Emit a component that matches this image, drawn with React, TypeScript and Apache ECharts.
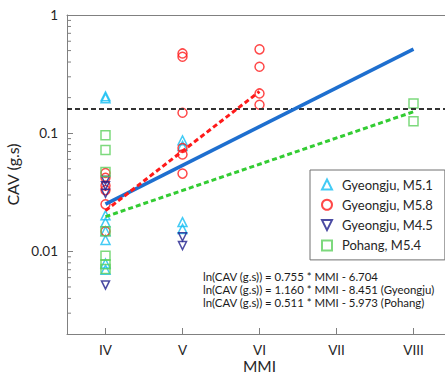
import React, { useEffect, useRef } from 'react';
import * as echarts from 'echarts';

// MMI categories (x) and their roman labels
const mmiValues = [4, 5, 6, 7, 8];
const mmiLabels = ['IV', 'V', 'VI', 'VII', 'VIII'];

// Y tick labels (log axis)
const yTickValues = [0.01, 0.1, 1];

// Scatter data: [MMI, CAV (g.s)]
const gyeongjuM51 = [
  [4, 0.205], [4, 0.198], [4, 0.0202], [4, 0.0176], [4, 0.0148], [4, 0.0125], [4, 0.0079], [4, 0.007],
  [5, 0.087], [5, 0.078], [5, 0.0177], [5, 0.0155],
];
const gyeongjuM58 = [
  [4, 0.046], [4, 0.042], [4, 0.036], [4, 0.033], [4, 0.025], [4, 0.0148],
  [5, 0.473], [5, 0.443], [5, 0.149], [5, 0.075], [5, 0.066], [5, 0.0455],
  [6, 0.512], [6, 0.365], [6, 0.217], [6, 0.174],
];
const gyeongjuM45 = [
  [4, 0.04], [4, 0.036], [4, 0.031], [4, 0.0052],
  [5, 0.0133], [5, 0.0112],
];
const pohangM54 = [
  [4, 0.096], [4, 0.072], [4, 0.047], [4, 0.0148], [4, 0.0092], [4, 0.0078], [4, 0.0071],
  [8, 0.178], [8, 0.126],
];

// Regression lines: ln(CAV) = slope * MMI + intercept
const fitSlopes = [0.755, 1.16, 0.511];
const fitIntercepts = [-6.704, -8.451, -5.973];
const fitRanges = [[4, 8], [4, 6], [4, 8]];
const equationTexts = [
  'ln(CAV (g.s)) = 0.755 * MMI - 6.704',
  'ln(CAV (g.s)) = 1.160 * MMI - 8.451 (Gyeongju)',
  'ln(CAV (g.s)) = 0.511 * MMI - 5.973 (Pohang)',
];

// Threshold CAV
const thresholdCAV = 0.16;

const seriesNames = ['Gyeongju, M5.1', 'Gyeongju, M5.8', 'Gyeongju, M4.5', 'Pohang, M5.4'];

const X_MIN = 3.5;
const X_MAX = 8.5;
const Y_MIN = 0.002;
const Y_MAX = 1;

const FONT = 'Lato';
const AXIS_COLOR = '#808080';
const TEXT_COLOR = '#262626';

const INV_TRIANGLE = 'path://M0,0 L10,0 L5,10 Z';

function fitLine(i: number) {
  return fitRanges[i].map((m) => [m, Math.exp(fitSlopes[i] * m + fitIntercepts[i])]);
}

function minorTicks() {
  const out: number[][] = [];
  for (let d = -3; d <= -1; d++) {
    for (let k = 2; k <= 9; k++) {
      const v = k * Math.pow(10, d);
      if (v > Y_MIN * 1.0001 && v < Y_MAX) out.push([X_MIN, v]);
    }
  }
  return out;
}

export default function App() {
  const ref = useRef<HTMLDivElement>(null);
  useEffect(() => {
    if (!ref.current) return;
    const chart = echarts.init(ref.current, undefined, { renderer: 'svg' });
    const scatterBase = (name: string, data: number[][], symbol: string, color: string, size: number) => ({
      name,
      type: 'scatter',
      data,
      symbol,
      symbolSize: size,
      itemStyle: { color: 'rgba(0,0,0,0)', borderColor: color, borderWidth: 1.5 },
      z: 3,
    });
    const option: any = {
      animation: false,
      grid: { left: 67, top: 15, right: 8, bottom: 40, containLabel: false, outerBoundsMode: 'none' },
      xAxis: [
        {
          type: 'value',
          min: X_MIN,
          max: X_MAX,
          position: 'bottom',
          axisLine: { show: true, lineStyle: { color: AXIS_COLOR, width: 1 } },
          axisTick: { show: true, inside: true, length: 6, lineStyle: { color: AXIS_COLOR } },
          splitLine: { show: false },
          axisLabel: {
            color: TEXT_COLOR,
            fontSize: 13.5,
            fontFamily: FONT,
            margin: 9,
            formatter: (v: number) => {
              const i = mmiValues.findIndex((m) => Math.abs(m - v) < 1e-6);
              return i >= 0 ? mmiLabels[i] : '';
            },
          },
          name: 'MMI',
          nameLocation: 'middle',
          nameGap: 24,
          nameMoveOverlap: false,
          nameTextStyle: { color: TEXT_COLOR, fontSize: 15.5, fontFamily: FONT },
        },
        {
          type: 'value',
          min: X_MIN,
          max: X_MAX,
          position: 'top',
          axisLine: { show: true, lineStyle: { color: AXIS_COLOR, width: 1 } },
          axisTick: { show: false },
          axisLabel: { show: false },
          splitLine: { show: false },
        },
      ],
      yAxis: {
        type: 'log',
        logBase: 10,
        min: Y_MIN,
        max: Y_MAX,
        axisLine: { show: true, lineStyle: { color: AXIS_COLOR, width: 1 } },
        axisTick: { show: true, inside: true, length: 6, lineStyle: { color: AXIS_COLOR } },
        splitLine: { show: false },
        axisLabel: {
          color: TEXT_COLOR,
          fontSize: 13.5,
          fontFamily: FONT,
          margin: 9,
          formatter: (v: number) => {
            const t = yTickValues.find((y) => Math.abs(Math.log10(v) - Math.log10(y)) < 1e-6);
            return t !== undefined ? String(t) : '';
          },
        },
        name: 'CAV (g.s)',
        nameLocation: 'middle',
        nameGap: 42,
        nameTextStyle: { color: TEXT_COLOR, fontSize: 16, fontFamily: FONT },
      },
      legend: {
        data: seriesNames,
        orient: 'vertical',
        left: 310,
        top: 170,
        itemWidth: 10,
        itemHeight: 10,
        itemGap: 7.3,
        padding: [8, 12, 8, 11],
        borderColor: '#707070',
        borderWidth: 1,
        backgroundColor: '#ffffff',
        textStyle: { color: TEXT_COLOR, fontSize: 13, fontFamily: FONT, padding: [0, 0, 0, 5] },
      },
      graphic: equationTexts.map((t, i) => ({
        type: 'text',
        x: 203,
        y: 276.5 + i * 13,
        style: { text: t, fill: '#1a1a1a', fontSize: 11.4, fontFamily: FONT, verticalAlign: 'middle' },
        z: 10,
      })),
      series: [
        {
          type: 'custom',
          silent: true,
          data: minorTicks(),
          renderItem: (params: any, api: any) => {
            const p = api.coord([api.value(0), api.value(1)]);
            return {
              type: 'line',
              shape: { x1: p[0], y1: p[1], x2: p[0] + 4, y2: p[1] },
              style: { stroke: AXIS_COLOR, lineWidth: 1 },
            };
          },
          z: 1,
        },
        scatterBase(seriesNames[0], gyeongjuM51, 'triangle', '#14BEF2', 9),
        scatterBase(seriesNames[1], gyeongjuM58, 'circle', '#FF1A1A', 9),
        scatterBase(seriesNames[2], gyeongjuM45, INV_TRIANGLE, '#1E1E8C', 8),
        scatterBase(seriesNames[3], pohangM54, 'rect', '#5CCF5C', 9),
        {
          type: 'line',
          data: [[X_MIN, thresholdCAV], [X_MAX, thresholdCAV]],
          showSymbol: false,
          symbol: 'none',
          lineStyle: { color: '#333333', width: 2, type: [5, 3] },
          z: 4,
          silent: true,
        },
        {
          type: 'line',
          data: fitLine(0),
          symbol: 'none',
          lineStyle: { color: '#1E6FCF', width: 3.5 },
          z: 5,
          silent: true,
        },
        {
          type: 'line',
          data: fitLine(1),
          symbol: 'none',
          lineStyle: { color: '#FF1A1A', width: 3, type: [5, 3] },
          z: 6,
          silent: true,
        },
        {
          type: 'line',
          data: fitLine(2),
          symbol: 'none',
          lineStyle: { color: '#33CC33', width: 3, type: [5, 3] },
          z: 6,
          silent: true,
        },
      ],
    };
    chart.setOption(option);
    return () => chart.dispose();
  }, []);
  return (
    <div style={{ position: 'fixed', left: 0, top: 0, width: 445, height: 374, overflow: 'hidden', background: '#fff' }}>
      <div ref={ref} style={{ width: 460, height: 374 }} />
    </div>
  );
}
